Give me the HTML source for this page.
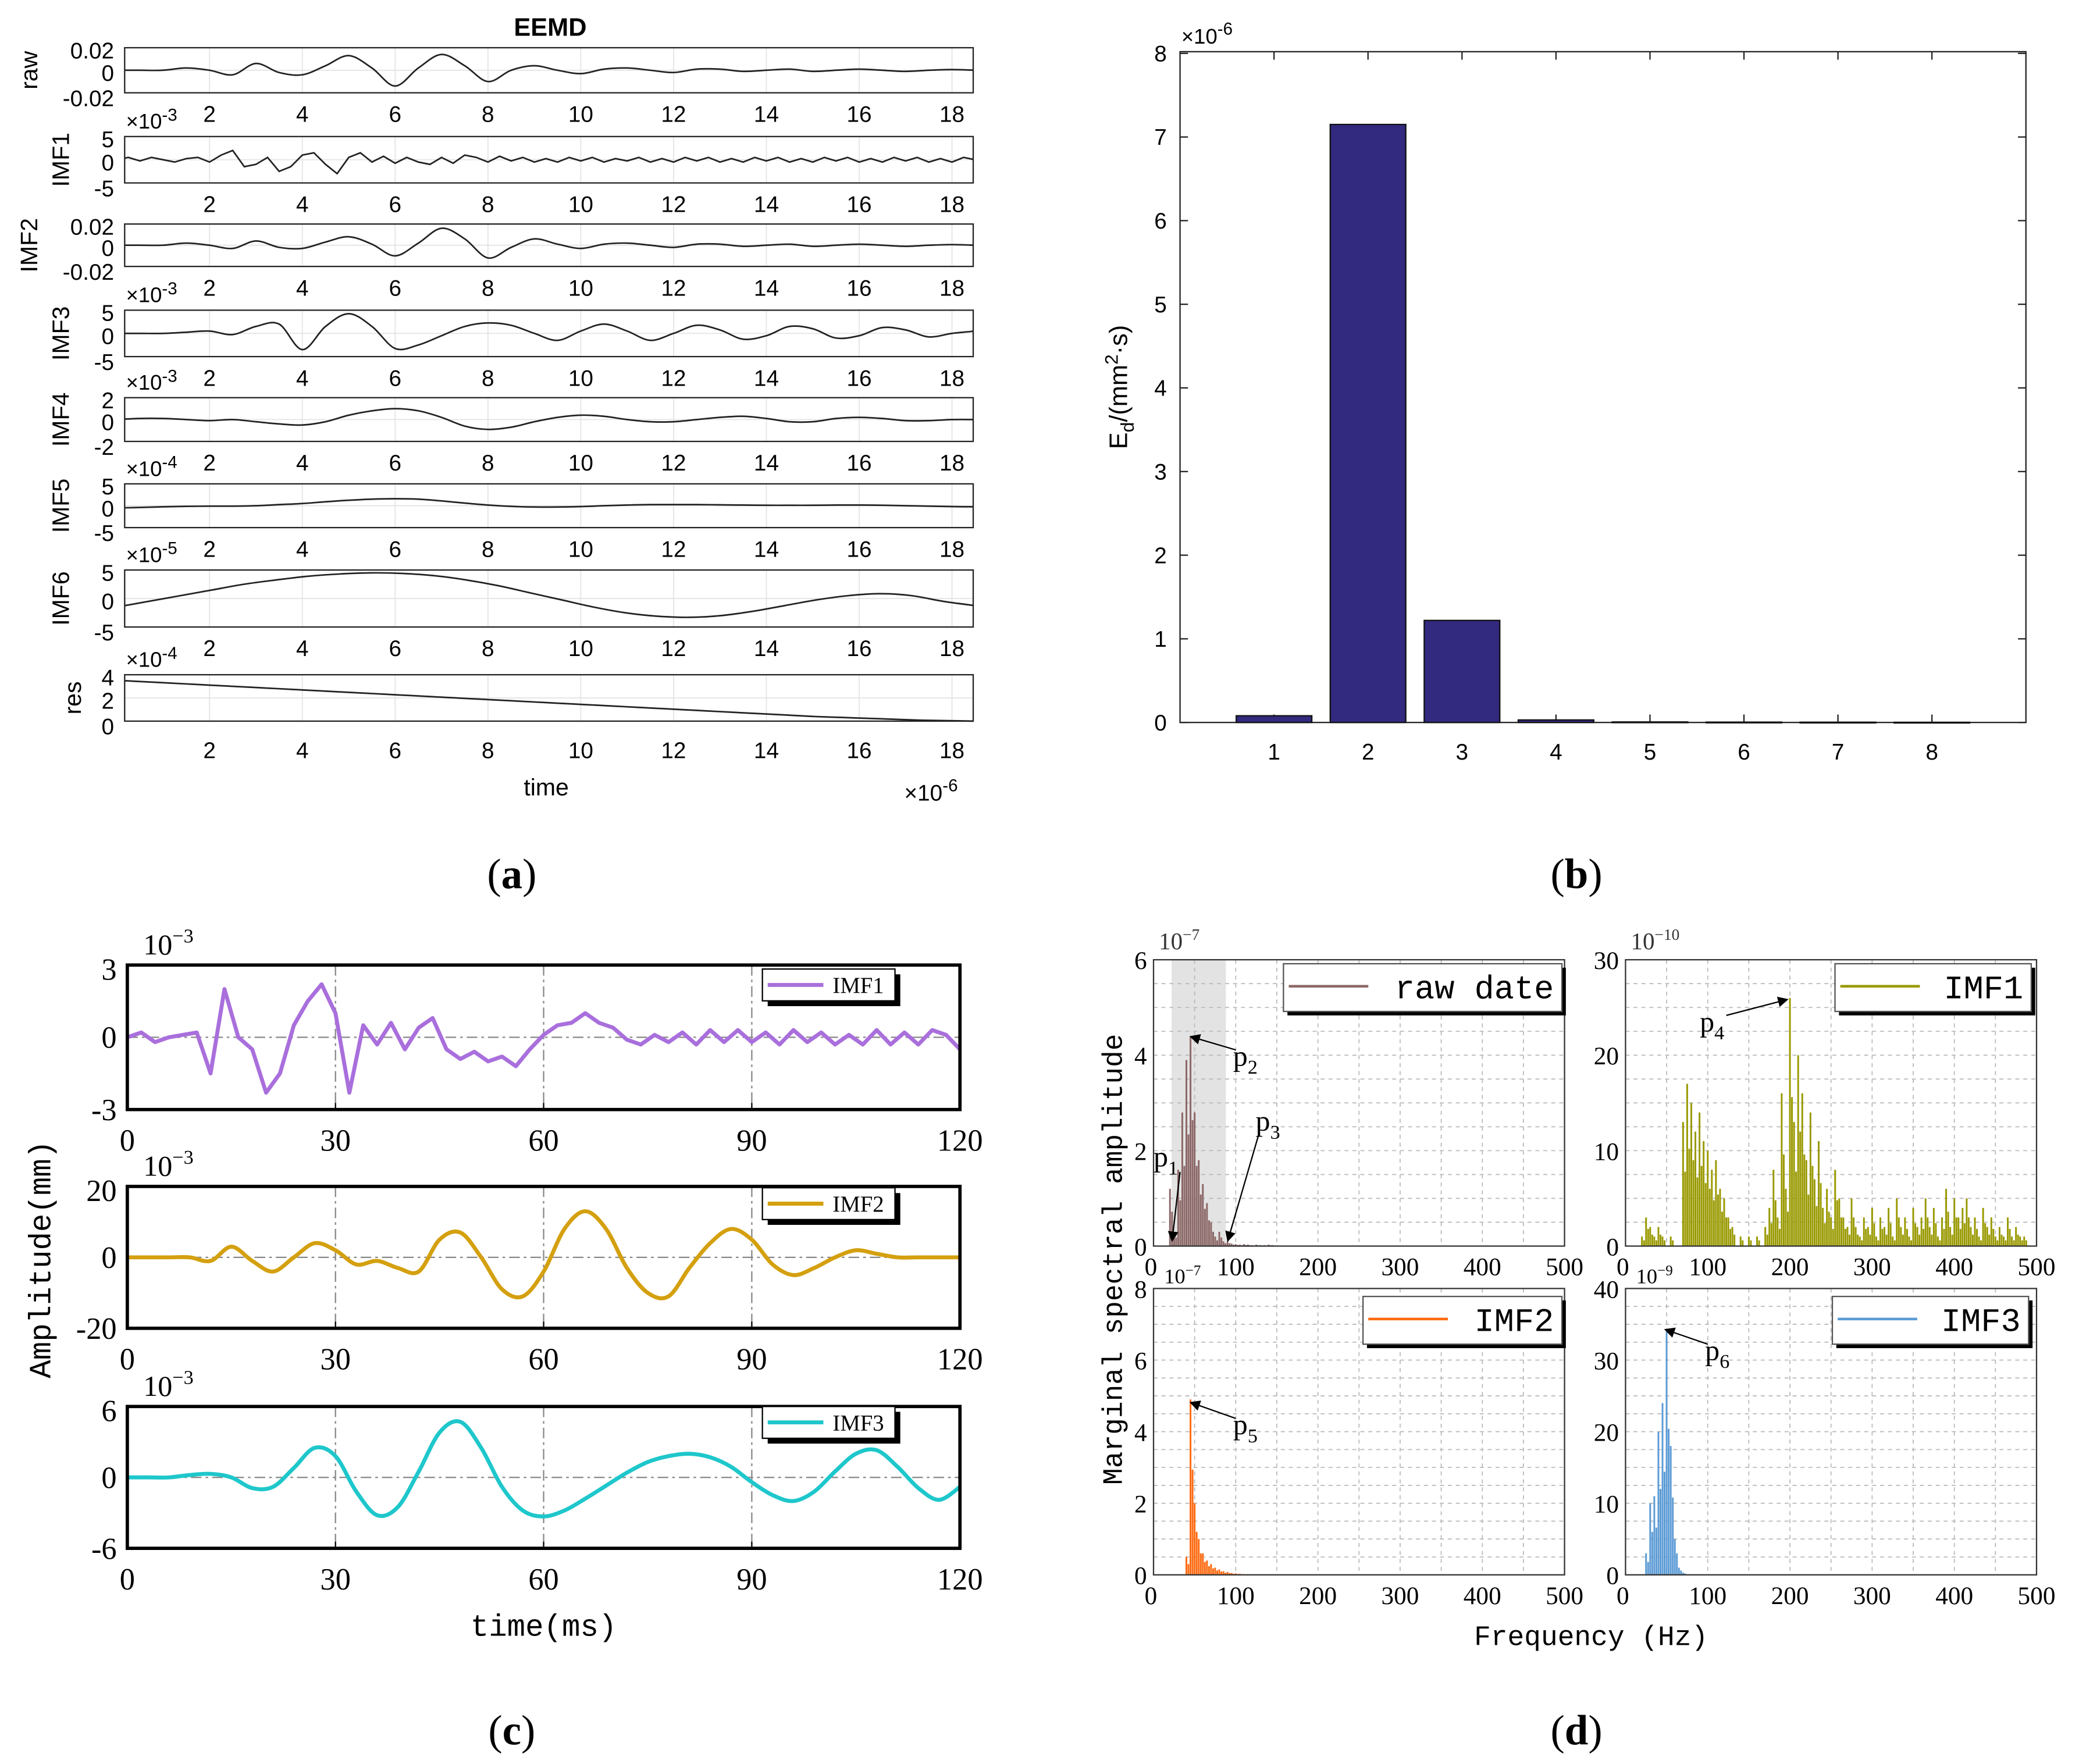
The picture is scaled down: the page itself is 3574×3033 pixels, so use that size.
<!DOCTYPE html>
<html><head><meta charset="utf-8">
<style>
html,body{margin:0;padding:0;background:#fff;}
svg{display:block;}
.s{font-family:"Liberation Sans",sans-serif;}
.r{font-family:"Liberation Serif",serif;}
.m{font-family:"Liberation Mono",monospace;}
</style></head>
<body>
<svg id="fig" xmlns="http://www.w3.org/2000/svg" width="3574" height="3033" viewBox="0 0 1568 1330.7">
<rect width="1568" height="1331" fill="#fff"/>
<defs><clipPath id="clipA"><rect x="94" y="0" width="640" height="1330"/></clipPath>
<marker id="ah" markerWidth="8" markerHeight="8" refX="7" refY="4" orient="auto"><path d="M0,0 L8,4 L0,8 z" fill="#000"/></marker></defs>
<g id="ga"></g>
<g id="gb"></g>
<g id="gc"></g>
<g id="gd"></g>
<text x="386" y="670" text-anchor="middle" class="r" font-size="32">(<tspan font-weight="bold">a</tspan>)</text>
<text x="1189" y="670" text-anchor="middle" class="r" font-size="32">(<tspan font-weight="bold">b</tspan>)</text>
<text x="386" y="1316" text-anchor="middle" class="r" font-size="32">(<tspan font-weight="bold">c</tspan>)</text>
<text x="1189" y="1316" text-anchor="middle" class="r" font-size="32">(<tspan font-weight="bold">d</tspan>)</text>
</svg>
<script>
// ---------- DATA ----------
// panel (b)
const barCats = [1,2,3,4,5,6,7,8];
const barVals = [0.08,7.15,1.22,0.03,0.006,0.004,0.003,0.002];
const barTicksY = [0,1,2,3,4,5,6,7,8];
// panel (a) normalized to tick max, sampled every 0.5 (x1e-6) from t=0
const aRaw = [0,0,0,0.1,0,-0.2,0.3,-0.1,-0.2,0.2,0.65,0.1,-0.7,0.1,0.7,0.2,-0.5,0,0.2,0,-0.15,0.05,0.1,0,-0.1,0.05,0.05,-0.05,0,0.05,-0.05,0,0.05,0,-0.05,0,0.03,0];
const aImf1 = [0,0.1,-0.05,0.1,0,-0.1,0.05,0.1,-0.1,0.2,0.4,-0.3,-0.2,0.1,-0.5,-0.3,0.2,0.3,-0.2,-0.6,0.1,0.3,-0.1,0.15,-0.15,0.1,-0.1,-0.2,0.1,-0.15,0.2,0.1,-0.1,0.15,-0.05,0.1,-0.1,0.05,-0.1,0.1,-0.05,0.1,-0.1,0.05,-0.05,0.1,-0.1,0.05,-0.1,0.1,-0.05,0.1,-0.1,0.05,-0.1,0.1,-0.05,0.1,-0.1,0.05,-0.1,0.1,-0.05,0.1,-0.1,0.05,-0.1,0.1,-0.05,0.1,-0.1,0.05,-0.1,0.1,0];
const aImf2 = [0,0,0,0.1,0,-0.15,0.2,-0.1,-0.15,0.15,0.4,0.05,-0.5,0.1,0.8,0.3,-0.6,-0.1,0.3,0.05,-0.15,0.05,0.1,0,-0.1,0.05,0.05,-0.05,0,0.05,-0.05,0,0.05,0,-0.05,0,0.03,0];
const aImf3 = [0,0,0,0.05,0.1,-0.05,0.3,0.4,-0.7,0.3,0.85,0.3,-0.65,-0.5,-0.1,0.3,0.45,0.35,0,-0.3,0.1,0.4,0.1,-0.3,0,0.35,0.15,-0.25,-0.1,0.3,0.2,-0.2,-0.1,0.25,0.15,-0.15,0,0.1];
const aImf4 = [0,0.05,0.05,0,-0.05,0,-0.1,-0.2,-0.25,-0.1,0.2,0.4,0.5,0.4,0.1,-0.3,-0.45,-0.35,-0.1,0.1,0.2,0.15,0,-0.1,-0.1,0,0.1,0.15,0.05,-0.1,-0.1,0.05,0.1,0.05,-0.05,-0.05,0,0];
const aImf5 = [-0.1,-0.08,-0.05,-0.03,-0.02,-0.02,0,0.05,0.1,0.18,0.25,0.3,0.32,0.3,0.22,0.12,0.03,-0.03,-0.06,-0.06,-0.04,0,0.03,0.05,0.05,0.05,0.04,0.03,0.02,0.02,0.02,0.03,0.03,0.02,0,-0.02,-0.04,-0.05];
const aImf6 = [-0.3,-0.1,0.1,0.3,0.5,0.65,0.78,0.86,0.9,0.88,0.8,0.65,0.45,0.2,-0.05,-0.3,-0.5,-0.62,-0.66,-0.6,-0.45,-0.25,-0.05,0.1,0.17,0.1,-0.1,-0.25];
const aRes = [0.88,0.85,0.82,0.79,0.76,0.73,0.70,0.67,0.64,0.61,0.58,0.55,0.52,0.49,0.46,0.43,0.40,0.37,0.34,0.31,0.28,0.25,0.22,0.19,0.16,0.13,0.10,0.08,0.06,0.04,0.02,0.01,0];
const aTicks = [2,4,6,8,10,12,14,16,18];
// panel (c) values in 1e-3 mm, time 0..120 ms
const cImf1 = [0,0.2,-0.2,0,0.1,0.2,-1.5,2,0,-0.5,-2.3,-1.5,0.5,1.5,2.2,1.0,-2.3,0.5,-0.3,0.6,-0.5,0.4,0.8,-0.5,-0.9,-0.6,-1.0,-0.8,-1.2,-0.5,0.1,0.5,0.6,1.0,0.6,0.4,-0.1,-0.3,0.1,-0.2,0.2,-0.3,0.3,-0.2,0.3,-0.2,0.2,-0.3,0.3,-0.2,0.2,-0.3,0.1,-0.3,0.3,-0.3,0.2,-0.3,0.3,0.1,-0.5];
const cImf2 = [0,0,0,0,-1,3,-1,-4,0,4,2,-2,-1,-3,-4,5,7,0,-9,-11,-4,8,13,8,-3,-10,-11,-3,4,8,5,-2,-5,-3,0,2,1,0,0,0,0];
const cImf3 = [0,0,0,0.2,0.3,0,-0.9,-0.8,0.8,2.5,1.8,-1.2,-3.2,-2.5,0.5,3.8,4.7,2.5,-0.8,-2.8,-3.3,-2.8,-1.8,-0.7,0.4,1.3,1.8,2,1.7,0.9,-0.4,-1.5,-2,-1.2,0.5,2,2.3,0.9,-0.9,-1.9,-0.8];
const cTicksX = [0,30,60,90,120];
// panel (d) spectra, 5 Hz bins from 0 to 495 Hz
const dRaw = [0,0,0,0,1.2,0.3,1.6,2.8,3.9,4.4,2.8,1.8,1.3,0.9,0.5,0.2,0.3,0.1,0.1,0.05,0.04,0.03,0.04,0.03,0.02,0.03,0.02,0.02,0.03,0.02];
const dImf1 = [0,0,0,0,1,3,2,1,2,1,0,1,0,0,13,17,15,12,14,11,10,8,9,6,5,3,2,0,1,0,1,0,1,0,2,4,8,3,16,6,26,13,20,16,9,14,7,11,4,6,3,8,5,3,2,5,2,1,3,2,4,1,3,2,4,1,5,2,3,1,4,2,3,5,2,4,1,3,6,2,5,3,4,5,2,3,1,4,2,3,1,2,1,3,1,2,1,1,0,0];
const dImf2 = [0,0,0,0,0,0,0,0,0.5,4.9,2,1,0.6,0.4,0.3,0.2,0.15,0.1,0.08,0.05,0.04,0.03,0.02,0.02,0.01];
const dImf3 = [0,0,0,0,0,3,10,11,20,24,34,18,5,1,0.3];
const dTicksX = [0,100,200,300,400,500];

// ---------- HELPERS ----------
const NS="http://www.w3.org/2000/svg";
function mk(parent,tag,attrs,txt){const e=document.createElementNS(NS,tag);for(const k in attrs)e.setAttribute(k,attrs[k]);if(txt!==undefined)e.textContent=txt;parent.appendChild(e);return e;}
function smoothPath(p){if(p.length<2)return"";let d="M"+p[0][0].toFixed(2)+","+p[0][1].toFixed(2);for(let i=0;i<p.length-1;i++){const p0=p[i-1]||p[i],p1=p[i],p2=p[i+1],p3=p[i+2]||p2;const c1x=p1[0]+(p2[0]-p0[0])/6,c1y=p1[1]+(p2[1]-p0[1])/6,c2x=p2[0]-(p3[0]-p1[0])/6,c2y=p2[1]-(p3[1]-p1[1])/6;d+="C"+c1x.toFixed(2)+","+c1y.toFixed(2)+" "+c2x.toFixed(2)+","+c2y.toFixed(2)+" "+p2[0].toFixed(2)+","+p2[1].toFixed(2);}return d;}
function linePath(p){return p.map((q,i)=>(i?"L":"M")+q[0].toFixed(2)+","+q[1].toFixed(2)).join("");}

// ---------- PANEL A ----------
(function(){
const g=document.getElementById('ga');
const x0=94,x1=734;const xs=t=>88+35*t;
mk(g,'text',{x:415,y:27,'text-anchor':'middle','font-size':19,'font-weight':'bold',class:'s',},'EEMD');
const rows=[
 {n:'raw',d:aRaw,top:36,bot:70,lab:['0.02','0','-0.02'],lx:22,exp:null,sm:true},
 {n:'IMF1',d:aImf1,top:103,bot:138,lab:['5','0','-5'],lx:46,exp:'-3',sm:false},
 {n:'IMF2',d:aImf2,top:169,bot:201,lab:['0.02','0','-0.02'],lx:22,exp:null,sm:true},
 {n:'IMF3',d:aImf3,top:234,bot:269,lab:['5','0','-5'],lx:46,exp:'-3',sm:true},
 {n:'IMF4',d:aImf4,top:300,bot:333,lab:['2','0','-2'],lx:46,exp:'-3',sm:true},
 {n:'IMF5',d:aImf5,top:365,bot:398,lab:['5','0','-5'],lx:46,exp:'-4',sm:true},
 {n:'IMF6',d:aImf6,top:430,bot:473,lab:['5','0','-5'],lx:46,exp:'-5',sm:true},
 {n:'res',d:aRes,top:509,bot:544,lab:['4','2','0'],lx:55,exp:'-4',sm:true,res:true}
];
rows.forEach((r,ri)=>{
 const sg=mk(g,'g',{});
 const mid=(r.top+r.bot)/2,half=(r.bot-r.top)/2;
 aTicks.forEach(t=>mk(sg,'line',{x1:xs(t),x2:xs(t),y1:r.top,y2:r.bot,stroke:'#e4e4e4','stroke-width':0.8}));
 mk(sg,'line',{x1:x0,x2:x1,y1:mid,y2:mid,stroke:'#e4e4e4','stroke-width':0.8});
 const ys=r.res?(v=>r.bot-v*(r.bot-r.top)):(v=>mid-v*half);
 const n=r.d.length;const step=(r.d===aImf1||r.d===aImf6||r.d===aRes)?18.5/(n-1):0.5;
 const pts=r.d.map((v,i)=>[xs(i*step),ys(v)]);
 mk(sg,'path',{d:r.sm?smoothPath(pts):linePath(pts),fill:'none',stroke:'#222','stroke-width':1.2,'clip-path':'url(#clipA)',});
 mk(sg,'rect',{x:x0,y:r.top,width:x1-x0,height:r.bot-r.top,fill:'none',stroke:'#222','stroke-width':1});
 const ly=[r.top+2,mid+2,r.bot+4];
 r.lab.forEach((l,i)=>mk(sg,'text',{x:86,y:ly[i]+6,'text-anchor':'end','font-size':17,class:'s'},l));
 mk(sg,'text',{x:r.lx,y:mid,'text-anchor':'middle','font-size':18,class:'s',transform:`rotate(-90 ${r.lx} ${mid})`,dy:6,},r.n);
 const ty=r.bot+(ri===7?28:22);
 aTicks.forEach(t=>mk(sg,'text',{x:xs(t),y:ty,'text-anchor':'middle','font-size':17,class:'s'},String(t)));
 if(r.exp){const e=mk(sg,'text',{x:95,y:r.top-6,'font-size':16,class:'s'},'\u00d710');mk(e,'tspan',{dy:-6,'font-size':13},r.exp);}
});
mk(g,'text',{x:412,y:600,'text-anchor':'middle','font-size':18,class:'s',},'time');
const e=mk(g,'text',{x:682,y:604,'font-size':17,class:'s'},'\u00d710');mk(e,'tspan',{dy:-7,'font-size':13},'-6');
})();

// ---------- PANEL B ----------
(function(){
const g=document.getElementById('gb');
const X0=890,X1=1528,Y0=545,Y1=39;
const xs=c=>X0+(X1-X0)*c/9, ys=v=>Y0-(Y0-Y1)*v/8.02;
mk(g,'rect',{x:X0,y:Y1,width:X1-X0,height:Y0-Y1,fill:'none',stroke:'#222','stroke-width':1});
barTicksY.forEach(v=>{
 mk(g,'line',{x1:X0,x2:X0+6,y1:ys(v),y2:ys(v),stroke:'#222'});
 mk(g,'line',{x1:X1,x2:X1-6,y1:ys(v),y2:ys(v),stroke:'#222'});
 mk(g,'text',{x:X0-10,y:ys(v)+6,'text-anchor':'end','font-size':17,class:'s'},String(v));
});
barCats.forEach((c,i)=>{
 mk(g,'line',{x1:xs(c),x2:xs(c),y1:Y0,y2:Y0-6,stroke:'#222'});
 mk(g,'line',{x1:xs(c),x2:xs(c),y1:Y1,y2:Y1+6,stroke:'#222'});
 mk(g,'text',{x:xs(c),y:Y0+28,'text-anchor':'middle','font-size':17,class:'s'},String(c));
 const b=mk(g,'rect',{x:xs(c)-28.5,y:ys(barVals[i]),width:57,height:Math.max(0.5,Y0-ys(barVals[i])),fill:'#322a7e',stroke:'#111','stroke-width':1});
 
 
});
const e=mk(g,'text',{x:891,y:33,'font-size':16,class:'s'},'\u00d710');mk(e,'tspan',{dy:-7,'font-size':13},'-6');
const t=mk(g,'text',{x:850,y:292,'text-anchor':'middle','font-size':19,class:'s',transform:'rotate(-90 850 292)',},'E');
mk(t,'tspan',{dy:5,'font-size':14},'d');mk(t,'tspan',{dy:-5},'/(mm');mk(t,'tspan',{dy:-7,'font-size':14},'2');mk(t,'tspan',{dy:7},'\u00b7s)');
})();

// ---------- PANEL C ----------
(function(){
const g=document.getElementById('gc');
const X0=96,X1=724;const xs=t=>X0+(X1-X0)*t/120;
const rows=[
 {n:'imf1',lab:'IMF1',d:cImf1,max:3,top:728,bot:837,col:'#a96fdc',tk:['3','0','-3'],sm:false,ly:743},
 {n:'imf2',lab:'IMF2',d:cImf2,max:20,top:895,bot:1002,col:'#d4a00f',tk:['20','0','-20'],sm:true,ly:908},
 {n:'imf3',lab:'IMF3',d:cImf3,max:6,top:1061,bot:1168,col:'#1ec7cb',tk:['6','0','-6'],sm:true,ly:1073}
];
rows.forEach(r=>{
 const sg=mk(g,'g',{});
 const mid=(r.top+r.bot)/2,half=(r.bot-r.top)/2;const ys=v=>mid-v/r.max*half;
 [30,60,90].forEach(t=>mk(sg,'line',{x1:xs(t),x2:xs(t),y1:r.top,y2:r.bot,stroke:'#888','stroke-width':1,'stroke-dasharray':'8 3 2 3'}));
 mk(sg,'line',{x1:X0,x2:X1,y1:mid,y2:mid,stroke:'#888','stroke-width':1,'stroke-dasharray':'8 3 2 3'});
 const n=r.d.length;const pts=r.d.map((v,i)=>[xs(i*120/(n-1)),ys(v)]);
 mk(sg,'path',{d:r.sm?smoothPath(pts):linePath(pts),fill:'none',stroke:r.col,'stroke-width':3,'stroke-linejoin':'round',});
 mk(sg,'rect',{x:X0,y:r.top,width:X1-X0,height:r.bot-r.top,fill:'none',stroke:'#000','stroke-width':2.5});
 cTicksX.forEach(t=>{mk(sg,'line',{x1:xs(t),x2:xs(t),y1:r.bot,y2:r.bot-5,stroke:'#000'});mk(sg,'text',{x:xs(t),y:r.bot+31,'text-anchor':'middle','font-size':23,class:'r'},String(t));});
 [r.top+3,mid,r.bot].forEach((y,i)=>mk(sg,'text',{x:88,y:y+8,'text-anchor':'end','font-size':23,class:'r'},r.tk[i]));
 const e=mk(sg,'text',{x:108,y:r.top-8,'font-size':22,class:'r'},'10');mk(e,'tspan',{dy:-9,'font-size':15},'\u22123');
 const lg=mk(sg,'g',{});
 mk(lg,'rect',{x:579,y:r.ly-8,width:100,height:24,fill:'#000'});
 mk(lg,'rect',{x:575,y:r.ly-12,width:100,height:24,fill:'#fff',stroke:'#000','stroke-width':1});
 mk(lg,'line',{x1:579,x2:621,y1:r.ly,y2:r.ly,stroke:r.col,'stroke-width':3});
 mk(lg,'text',{x:628,y:r.ly+6,'font-size':17,class:'r'},r.lab);
});
mk(g,'text',{x:38,y:950,'text-anchor':'middle','font-size':23,class:'m',transform:'rotate(-90 38 950)',},'Amplitude(mm)');
mk(g,'text',{x:410,y:1234,'text-anchor':'middle','font-size':23,class:'m',},'time(ms)');
})();

// ---------- PANEL D ----------
(function(){
const g=document.getElementById('gd');
const panels=[
 {n:'raw',lab:'raw date',d:dRaw,x0:870,x1:1180,top:724,bot:940,ymax:6,ticks:[0,2,4,6],col:'#8c6767',lg:[968,727,210],exp:'\u22127'},
 {n:'imf1',lab:'IMF1',d:dImf1,x0:1226,x1:1536,top:724,bot:940,ymax:30,ticks:[0,10,20,30],col:'#999900',lg:[1384,727,148],exp:'\u221210'},
 {n:'imf2',lab:'IMF2',d:dImf2,x0:870,x1:1180,top:972,bot:1188,ymax:8,ticks:[0,2,4,6,8],col:'#ff6a10',lg:[1028,978,150],exp:null},
 {n:'imf3',lab:'IMF3',d:dImf3,x0:1226,x1:1536,top:972,bot:1188,ymax:40,ticks:[0,10,20,30,40],col:'#5b9bd5',lg:[1382,978,148],exp:null}
];
panels.forEach((p,pi)=>{
 const sg=mk(g,'g',{});
 const xs=f=>p.x0+(p.x1-p.x0)*f/500, ys=v=>p.bot-(p.bot-p.top)*v/p.ymax;
 if(pi===0) mk(sg,'rect',{x:xs(22),y:p.top,width:xs(88)-xs(22),height:p.bot-p.top,fill:'#e3e3e3',});
 for(let f=50;f<500;f+=50) mk(sg,'line',{x1:xs(f),x2:xs(f),y1:p.top,y2:p.bot,stroke:'#bbb','stroke-width':0.8,'stroke-dasharray':'3 3'});
 const gs=p.ymax/(p.ymax===6||p.ymax===30?12:16);
 for(let v=gs;v<p.ymax;v+=gs) mk(sg,'line',{x1:p.x0,x2:p.x1,y1:ys(v),y2:ys(v),stroke:'#bbb','stroke-width':0.8,'stroke-dasharray':'3 3'});
 p.d.forEach((v,i)=>{ if(v<=0) return; const f=i*5;
   [0,2.5].forEach(o=>mk(sg,'line',{x1:xs(f+o),x2:xs(f+o),y1:p.bot,y2:ys(o?v*0.6:v),stroke:p.col,'stroke-width':1.3}));
 });
 mk(sg,'rect',{x:p.x0,y:p.top,width:p.x1-p.x0,height:p.bot-p.top,fill:'none',stroke:'#333','stroke-width':1});
 dTicksX.forEach(t=>mk(sg,'text',{x:xs(t)+(t===0?-2:0),y:p.bot+22,'text-anchor':'middle','font-size':19,class:'r'},String(t)));
 p.ticks.forEach(v=>mk(sg,'text',{x:p.x0-5,y:ys(v)+7,'text-anchor':'end','font-size':19,class:'r'},String(v)));
 if(p.exp){const e=mk(sg,'text',{x:p.x0+4,y:p.top-8,'font-size':18,class:'r',fill:'#333'},'10');mk(e,'tspan',{dy:-7,'font-size':12},p.exp);}
 const [lx,ly,lw]=p.lg;const lg=mk(sg,'g',{});
 mk(lg,'rect',{x:lx+3,y:ly+3,width:lw,height:36,fill:'#000'});
 mk(lg,'rect',{x:lx,y:ly,width:lw,height:36,fill:'#fff',stroke:'#555','stroke-width':1});
 mk(lg,'line',{x1:lx+4,x2:lx+64,y1:ly+17,y2:ly+17,stroke:p.col,'stroke-width':2});
 mk(lg,'text',{x:lx+lw-6,y:ly+26,'text-anchor':'end','font-size':25,class:'m'},p.lab);
});
const a1=mk(g,'text',{x:878,y:968,'font-size':16,class:'r'},'10');mk(a1,'tspan',{dy:-6,'font-size':11},'\u22127');
const a2=mk(g,'text',{x:1234,y:968,'font-size':16,class:'r'},'10');mk(a2,'tspan',{dy:-6,'font-size':11},'\u22129');
const ann=[['p','1',870,880,884,936],['p','2',930,804,898,782],['p','3',947,853,926,936],['p','4',1282,778,1348,754],['p','5',930,1082,898,1058],['p','6',1286,1026,1256,1003]];
ann.forEach(a=>{
 const t=mk(g,'text',{x:a[2],y:a[3],'font-size':22,class:'r',},a[0]);mk(t,'tspan',{dy:6,'font-size':15},a[1]);
 mk(g,'line',{x1:a[4]>a[2]+10?a[2]+20:a[2]+2,y1:a[3]-(a[5]>a[3]?-4:12),x2:a[4],y2:a[5],stroke:'#000','stroke-width':1,'marker-end':'url(#ah)'});
});
mk(g,'text',{x:846,y:950,'text-anchor':'middle','font-size':21,class:'m',transform:'rotate(-90 846 950)',},'Marginal spectral amplitude');
mk(g,'text',{x:1200,y:1241,'text-anchor':'middle','font-size':21,class:'m',},'Frequency (Hz)');
})();
</script>
</body></html>
